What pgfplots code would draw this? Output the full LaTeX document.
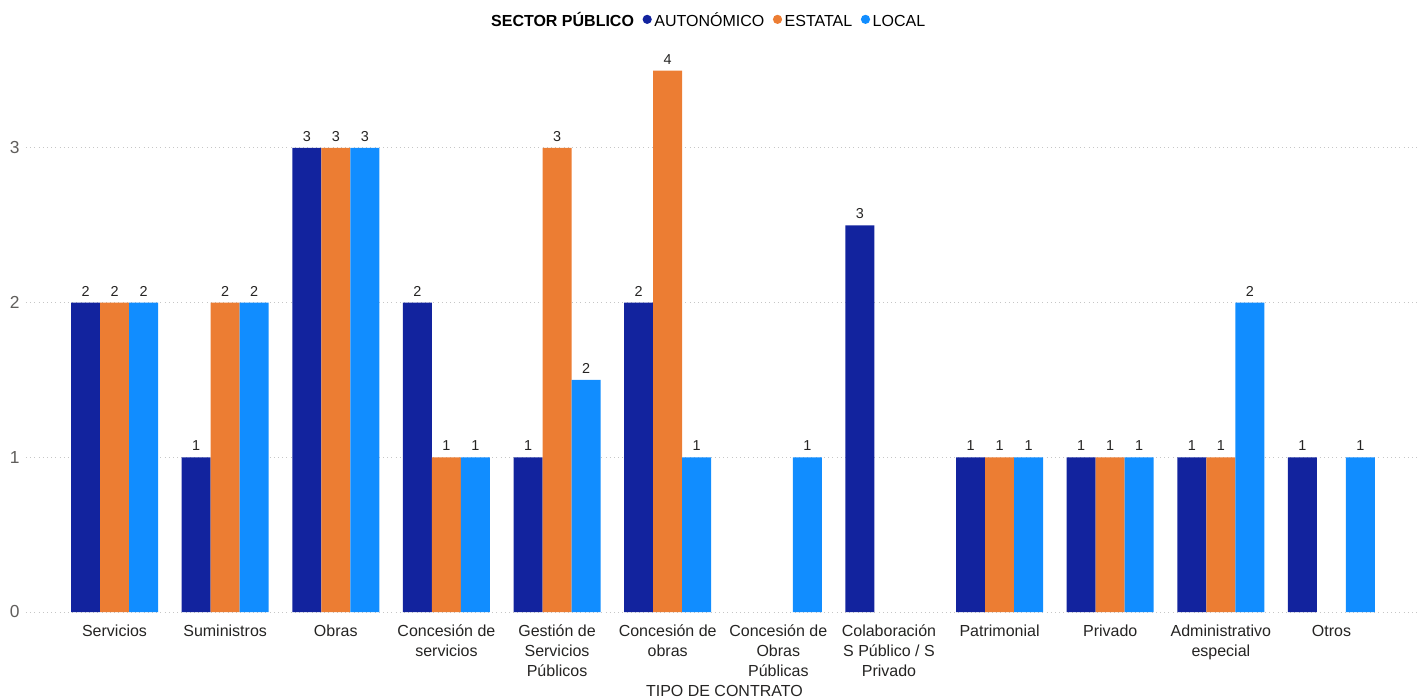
\documentclass[border=0pt]{standalone}
\usepackage{fontspec}
\setmainfont{Liberation Sans}
\usepackage{pgfplots}
\pgfplotsset{compat=1.18}
\definecolor{autc}{HTML}{12239E}
\definecolor{estc}{HTML}{EC7D33}
\definecolor{locc}{HTML}{118DFF}
\definecolor{txt}{HTML}{252423}
\definecolor{axc}{HTML}{605E5C}

\begin{document}
\begin{tikzpicture}
\useasboundingbox (-13pt,-43pt) rectangle (700pt,306pt);
\begin{axis}[
  at={(0,0)}, anchor=south west,
  scale only axis, width=697pt, height=286.2pt,
  ybar=0pt, bar width=14.5pt,
  xmin=-0.8, xmax=11.8, ymin=0, ymax=3.7,
  axis line style={draw=none}, tick style={draw=none},
  xtick={0,...,11},
  xticklabels={Servicios, Suministros, Obras, {Concesión de\\servicios},
    {Gestión de\\Servicios\\Públicos}, {Concesión de\\obras},
    {Concesión de\\Obras\\Públicas}, {Colaboración\\S Público / S\\Privado},
    Patrimonial, Privado, {Administrativo\\especial}, Otros},
  xticklabel style={align=center, text=txt, inner sep=0pt, anchor=north,
    yshift=-2pt, font=\fontsize{8}{10}\selectfont},
  ytick={0,1,2,3},
  yticklabel style={text=axc, inner sep=0pt, anchor=east, xshift=-3pt,
    font=\fontsize{8.7}{10}\selectfont},
  /pgf/number format/assume math mode=true,
  ymajorgrids,
  grid style={gray!45, line width=0.5pt, dash pattern=on 0.5pt off 1.6pt},
  xlabel={TIPO DE CONTRATO},
  xlabel style={at={(axis description cs:0.501,0)}, anchor=north,
    yshift=-36.5pt, inner sep=0pt, text=txt, font=\fontsize{8}{10}\selectfont},
  nodes near coords,
  point meta=explicit symbolic,
  every node near coord/.append style={font=\fontsize{7.2}{8}\selectfont,
    text=txt, inner sep=0pt, yshift=3pt},
  legend style={at={(0.489,1.034)}, anchor=center, draw=none,
    legend columns=-1, font=\fontsize{8}{9}\selectfont,
    nodes={inner sep=0.8pt, text height=6.2pt, text depth=0pt},
    /tikz/every odd column/.style={column sep=0.5pt},
    /tikz/every even column/.style={column sep=3.5pt}},
]
\addlegendimage{empty legend}
\addlegendentry{\textbf{SECTOR PÚBLICO}}

\addplot[fill=autc, draw=none,
  legend image code/.code={\fill[autc] (0,0.4pt) circle (2.3pt);}]
  coordinates {(0,2)[2] (1,1)[1] (2,3)[3] (3,2)[2] (4,1)[1] (5,2)[2]
    (7,2.5)[3] (8,1)[1] (9,1)[1] (10,1)[1] (11,1)[1]};
\addlegendentry{AUTONÓMICO}

\addplot[fill=estc, draw=none,
  legend image code/.code={\fill[estc] (0,0.4pt) circle (2.3pt);}]
  coordinates {(0,2)[2] (1,2)[2] (2,3)[3] (3,1)[1] (4,3)[3] (5,3.5)[4]
    (8,1)[1] (9,1)[1] (10,1)[1]};
\addlegendentry{ESTATAL}

\addplot[fill=locc, draw=none,
  legend image code/.code={\fill[locc] (0,0.4pt) circle (2.3pt);}]
  coordinates {(0,2)[2] (1,2)[2] (2,3)[3] (3,1)[1] (4,1.5)[2] (5,1)[1]
    (6,1)[1] (8,1)[1] (9,1)[1] (10,2)[2] (11,1)[1]};
\addlegendentry{LOCAL}
\end{axis}
\end{tikzpicture}
\end{document}
